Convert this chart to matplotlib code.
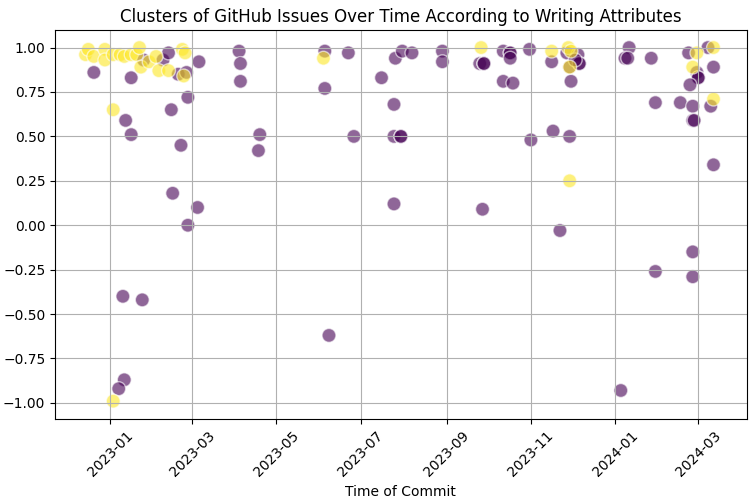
import matplotlib
matplotlib.use("Agg")
import matplotlib.pyplot as plt
import matplotlib.dates as mdates
import pandas as pd

# cluster 1 (yellow)
dates_1 = ["2022-12-14", "2022-12-16", "2022-12-20", "2022-12-28", "2022-12-28",
           "2023-01-03", "2023-01-03", "2023-01-03", "2023-01-08", "2023-01-11",
           "2023-01-16", "2023-01-20", "2023-01-22", "2023-01-23", "2023-01-29",
           "2023-02-03", "2023-02-05", "2023-02-12", "2023-02-22", "2023-02-24",
           "2023-02-23", "2023-06-04", "2023-09-26", "2023-11-16", "2023-11-28",
           "2023-11-30", "2023-11-29", "2023-11-29", "2024-02-29", "2024-02-26",
           "2024-03-12", "2024-03-12"]
values_1 = [0.96, 0.99, 0.95, 0.99, 0.93,
            0.65, -0.99, 0.96, 0.96, 0.95,
            0.96, 0.96, 1.00, 0.89, 0.92,
            0.95, 0.87, 0.87, 0.99, 0.97,
            0.84, 0.94, 1.00, 0.98, 1.00,
            0.98, 0.25, 0.89, 0.97, 0.89,
            1.00, 0.71]

# cluster 0 (purple)
dates_0 = ["2022-12-20", "2023-01-16", "2023-01-25", "2023-02-08", "2023-02-12",
           "2023-02-19", "2023-02-25", "2023-03-06", "2023-02-26", "2023-02-14",
           "2023-01-12", "2023-01-16", "2023-02-21", "2023-02-15", "2023-03-05",
           "2023-02-26", "2023-01-10", "2023-01-24", "2023-01-11", "2023-01-07",
           "2023-04-04", "2023-04-05", "2023-04-05", "2023-04-19", "2023-04-18",
           "2023-06-05", "2023-06-05", "2023-06-22", "2023-06-26", "2023-06-08",
           "2023-07-16", "2023-07-25", "2023-07-26", "2023-07-31", "2023-08-07",
           "2023-07-25", "2023-07-30", "2023-07-30", "2023-07-25", "2023-08-29",
           "2023-08-29", "2023-09-25", "2023-09-28", "2023-09-28", "2023-09-27",
           "2023-10-12", "2023-10-17", "2023-10-17", "2023-10-17", "2023-10-12",
           "2023-10-19", "2023-10-31", "2023-11-01", "2023-11-16", "2023-11-17",
           "2023-11-22", "2023-11-27", "2023-11-29", "2023-12-05", "2023-12-06",
           "2023-12-06", "2023-12-03", "2023-11-30", "2023-11-29", "2024-01-05",
           "2024-01-11", "2024-01-08", "2024-01-10", "2024-01-27", "2024-01-30",
           "2024-01-30", "2024-02-17", "2024-02-23", "2024-02-29", "2024-03-01",
           "2024-03-01", "2024-02-24", "2024-02-26", "2024-02-26", "2024-02-27",
           "2024-03-08", "2024-03-12", "2024-03-10", "2024-03-12", "2024-02-26",
           "2024-02-26"]
values_0 = [0.86, 0.83, 0.93, 0.93, 0.97,
            0.85, 0.86, 0.92, 0.72, 0.65,
            0.59, 0.51, 0.45, 0.18, 0.10,
            0.00, -0.40, -0.42, -0.87, -0.92,
            0.98, 0.91, 0.81, 0.51, 0.42,
            0.98, 0.77, 0.97, 0.50, -0.62,
            0.83, 0.68, 0.94, 0.98, 0.97,
            0.50, 0.50, 0.50, 0.12, 0.98,
            0.92, 0.91, 0.91, 0.91, 0.09,
            0.98, 0.97, 0.97, 0.94, 0.81,
            0.80, 0.99, 0.48, 0.92, 0.53,
            -0.03, 0.97, 0.89, 0.96, 0.91,
            0.91, 0.93, 0.81, 0.50, -0.93,
            1.00, 0.94, 0.94, 0.94, 0.69,
            -0.26, 0.69, 0.97, 0.86, 0.83,
            0.83, 0.79, 0.67, 0.59, 0.59,
            1.00, 0.89, 0.67, 0.34, -0.15,
            -0.29]

df = pd.DataFrame({
    "date": pd.to_datetime(dates_0 + dates_1),
    "value": values_0 + values_1,
    "cluster": [0] * len(dates_0) + [1] * len(dates_1),
})

fig, ax = plt.subplots(figsize=(7.55, 4.98), dpi=100)
ax.scatter(df["date"], df["value"], c=df["cluster"], cmap="viridis",
           alpha=0.6, edgecolors="w", s=100)
ax.set_title("Clusters of GitHub Issues Over Time According to Writing Attributes")
ax.set_xlabel("Time of Commit")
ax.xaxis.set_major_locator(mdates.MonthLocator(bymonth=[1, 3, 5, 7, 9, 11]))
ax.xaxis.set_major_formatter(mdates.DateFormatter("%Y-%m"))
ax.set_xlim(pd.Timestamp("2022-11-22"), pd.Timestamp("2024-04-05"))
plt.xticks(rotation=45)
ax.grid(True)
plt.subplots_adjust(left=0.073, right=0.989, top=0.94, bottom=0.159)
plt.savefig("out.png")
